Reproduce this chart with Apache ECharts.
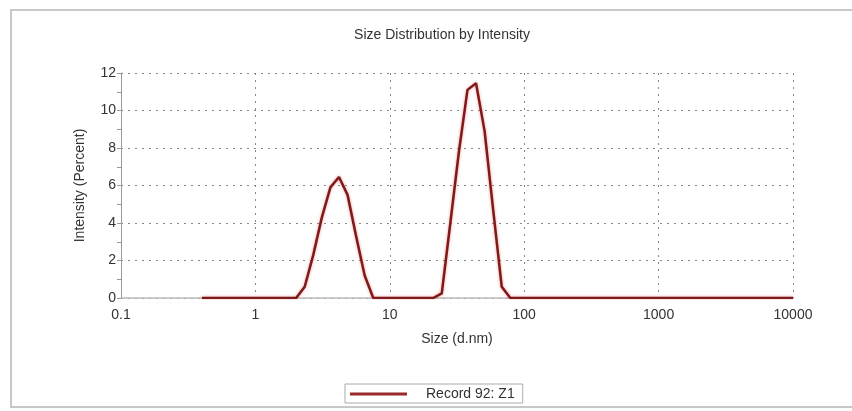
<!DOCTYPE html>
<html>
<head>
<meta charset="utf-8">
<script src="https://cdn.jsdelivr.net/npm/echarts@6/dist/echarts.min.js"></script>
<style>
html,body{margin:0;padding:0;background:#fff;}
#chart{width:852px;height:411px;}
</style>
</head>
<body>
<div id="chart"></div>
<script>
// Size bins (d.nm)
var sizes = [0.4, 0.4632, 0.5365, 0.6213, 0.7195, 0.8332, 0.9649, 1.117, 1.294, 1.499,
  1.736, 2.01, 2.328, 2.696, 3.122, 3.615, 4.187, 4.849, 5.615, 6.503,
  7.531, 8.721, 10.1, 11.7, 13.54, 15.69, 18.17, 21.04, 24.36, 28.21,
  32.67, 37.84, 43.82, 50.75, 58.77, 68.06, 78.82, 91.28, 105.7, 122.4,
  141.8, 164.2, 190.1, 220.2, 255, 295.3, 342, 396.1, 458.7, 531.2,
  615.1, 712.4, 825, 955.4, 1106, 1281, 1484, 1718, 1990, 2305,
  2669, 3091, 3580, 4145, 4801, 5560, 6439, 7456, 8635, 10000];
// Intensity (Percent)
var intensity = [0, 0, 0, 0, 0, 0, 0, 0, 0, 0,
  0, 0, 0.6, 2.3, 4.3, 5.9, 6.45, 5.5, 3.3, 1.2,
  0, 0, 0, 0, 0, 0, 0, 0, 0.25, 4.0,
  7.8, 11.1, 11.45, 8.9, 4.7, 0.6, 0, 0, 0, 0,
  0, 0, 0, 0, 0, 0, 0, 0, 0, 0,
  0, 0, 0, 0, 0, 0, 0, 0, 0, 0,
  0, 0, 0, 0, 0, 0, 0, 0, 0, 0];
var seriesName = 'Record 92: Z1';
var title = 'Size Distribution by Intensity';
var xName = 'Size (d.nm)';
var yName = 'Intensity (Percent)';

var points = sizes.map(function (s, i) { return [s, intensity[i]]; });
var font = "'Liberation Sans', Arial, sans-serif";
var chart = echarts.init(document.getElementById('chart'), null, {renderer: 'canvas'});
chart.setOption({
  backgroundColor: '#fff',
  animation: false,
  title: {
    text: title, left: 437, top: 23, textAlign: 'center',
    textStyle: {fontFamily: font, fontSize: 14, fontWeight: 'normal', color: '#333'}
  },
  graphic: [{
    type: 'rect', z: -1,
    shape: {x: 11, y: 10, width: 860, height: 397},
    style: {fill: 'none', stroke: '#c8c8c8', lineWidth: 2}
  }],
  legend: {
    left: 345, top: 384,
    data: [{name: seriesName, icon: 'rect'}],
    itemWidth: 57, itemHeight: 3,
    borderColor: '#aaa', borderWidth: 1, padding: [3, 8, 2, 5],
    textStyle: {fontFamily: font, fontSize: 14, color: '#333', padding: [0, 0, 0, 14]}
  },
  grid: {left: 121, right: 59, top: 73, bottom: 113, containLabel: false},
  xAxis: {
    type: 'log', logBase: 10, min: 0.1, max: 10000,
    name: xName, nameLocation: 'middle', nameGap: 34,
    nameTextStyle: {fontFamily: font, fontSize: 14, color: '#333'},
    axisLine: {show: true, onZero: false, lineStyle: {color: '#bbb', width: 1.5}},
    axisTick: {show: false},
    axisLabel: {fontFamily: font, fontSize: 14, color: '#333', margin: 10,
      formatter: function (v) { return String(v); }},
    splitLine: {show: true, lineStyle: {color: '#888', type: [2, 5], width: 1}}
  },
  yAxis: {
    type: 'value', min: 0, max: 12, interval: 2,
    name: yName, nameLocation: 'middle', nameGap: 34, nameRotate: 90,
    nameTextStyle: {fontFamily: font, fontSize: 14, color: '#333'},
    axisLine: {show: true, lineStyle: {color: '#999', width: 1}},
    axisTick: {show: true, length: 4, lineStyle: {color: '#999'}},
    minorTick: {show: true, splitNumber: 2, length: 4, lineStyle: {color: '#999'}},
    axisLabel: {fontFamily: font, fontSize: 14, color: '#333', margin: 5},
    splitLine: {show: true, lineStyle: {color: '#888', type: [2, 5], width: 1}}
  },
  series: [{
    name: seriesName, type: 'line', data: points,
    showSymbol: false, symbol: 'none', smooth: false,
    lineStyle: {color: '#7e1a1a', width: 2.5, shadowColor: 'rgba(230,70,70,0.55)', shadowBlur: 3},
    itemStyle: {color: '#9a2a2a'},
    z: 3
  }]
});
</script>
</body>
</html>
